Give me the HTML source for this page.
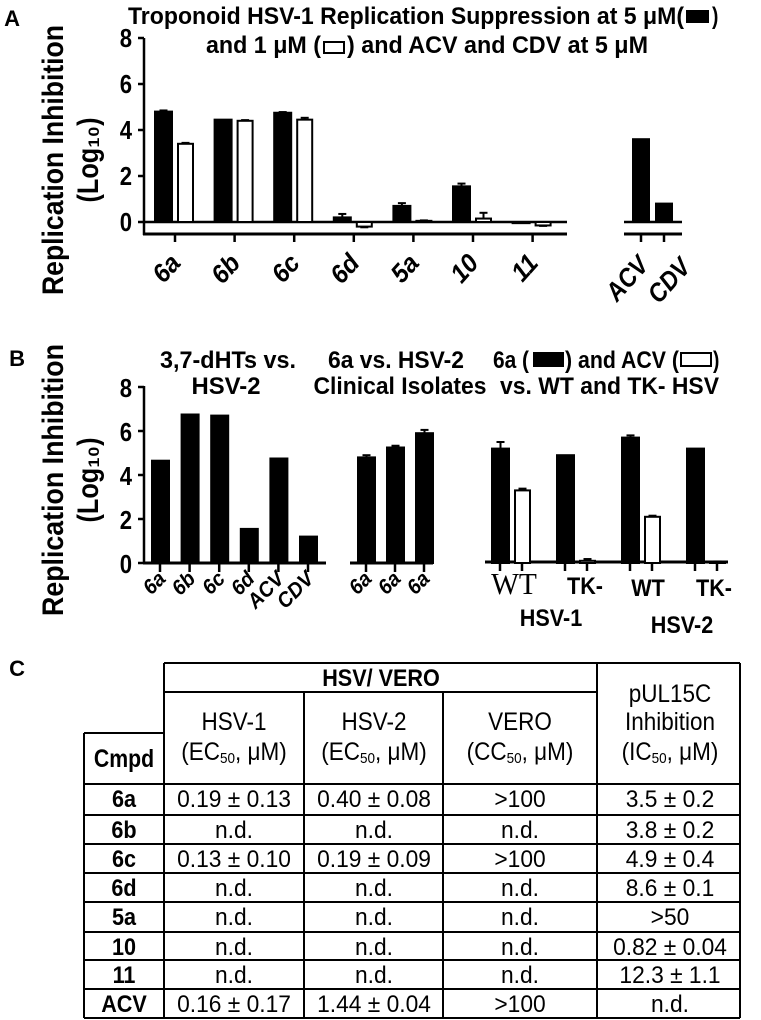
<!DOCTYPE html>
<html><head><meta charset="utf-8"><style>
html,body{margin:0;padding:0;background:#fff;}
svg{display:block;font-family:"Liberation Sans",sans-serif;}
</style></head><body>
<svg id="fig" width="761" height="1020" viewBox="0 0 761 1020" xmlns="http://www.w3.org/2000/svg"></svg>
<script>
// ===== Panel A data =====
const aCats = ["6a","6b","6c","6d","5a","10","11"];
const aBlack = [4.8,4.45,4.75,0.2,0.7,1.55,-0.05];
const aBlackErr = [0.05,0,0.03,0.15,0.12,0.12,0];
const aWhite = [3.4,4.4,4.45,-0.2,0.05,0.15,-0.15];
const aWhiteErr = [0.04,0.03,0.08,0.03,0.02,0.25,0.02];
const aCtrlCats = ["ACV","CDV"];
const aCtrlVals = [3.6,0.8];
const aTicks = [0,2,4,6,8];
// ===== Panel B data =====
const b1Cats = ["6a","6b","6c","6d","ACV","CDV"];
const b1Vals = [4.65,6.75,6.7,1.55,4.75,1.2];
const b2Cats = ["6a","6a","6a"];
const b2Vals = [4.8,5.25,5.9];
const b2Err = [0.1,0.08,0.15];
const b3Black = [5.2,4.9,5.7,5.2];
const b3BlackErr = [0.3,0,0.1,0];
const b3White = [3.3,0.1,2.1,0.05];
const b3WhiteErr = [0.08,0.08,0.05,0.02];
const bTicks = [0,2,4,6,8];
// ===== Table data =====
const tRows = ["6a","6b","6c","6d","5a","10","11","ACV"];
const tHsv1 = ["0.19 ± 0.13","n.d.","0.13 ± 0.10","n.d.","n.d.","n.d.","n.d.","0.16 ± 0.17"];
const tHsv2 = ["0.40 ± 0.08","n.d.","0.19 ± 0.09","n.d.","n.d.","n.d.","n.d.","1.44 ± 0.04"];
const tVero = [">100","n.d.",">100","n.d.","n.d.","n.d.","n.d.",">100"];
const tPul = ["3.5 ± 0.2","3.8 ± 0.2","4.9 ± 0.4","8.6 ± 0.1",">50","0.82 ± 0.04","12.3 ± 1.1","n.d."];

const NS="http://www.w3.org/2000/svg";
const svg=document.getElementById('fig');
function el(tag,attrs,parent){const e=document.createElementNS(NS,tag);for(const k in attrs)e.setAttribute(k,attrs[k]);(parent||svg).appendChild(e);return e;}
function line(x1,y1,x2,y2,w,name){const e=el('line',{x1,y1,x2,y2,stroke:'#000','stroke-width':w||2.5});


return e;}
function txt(s,x,y,o,name){o=o||{};const g=el('g',{transform:`translate(${x},${y})`+(o.rot?` rotate(${o.rot})`:'')+` scale(${o.sx||0.85},${o.sy||1})`});
const t=el('text',{x:0,y:0,'font-size':o.fs||20,'font-weight':o.fw||'bold','text-anchor':o.a||'middle','font-style':o.it?'italic':'normal','font-family':o.ff||'"Liberation Sans",sans-serif'},g);
if(o.len){t.setAttribute('textLength',o.len);t.setAttribute('lengthAdjust','spacingAndGlyphs');}
t.textContent=s;


return t;}
function rect(x,y,w,h,fill,name){const r=el('rect',{x,y,width:w,height:h,fill,stroke:'#000','stroke-width':2});


return r;}
function bar(x,w,v,ys,fill,err,name){const y0=ys(0),y1=ys(v);rect(x,Math.min(y0,y1),w,Math.max(Math.abs(y1-y0),1),fill,name);
if(err>0){const ye=ys(v+(v>=0?err:-err));const c=x+w/2;line(c,y1,c,ye,2,'error-bar');line(c-4,ye,c+4,ye,2,'error-cap');}}

// ===== Panel A =====
txt("A",12,26,{fs:22,sx:1},'panel-a-label');
const yA=v=>222-v*23;
txt("Troponoid HSV-1 Replication Suppression at 5 μM(",128,24,{fs:24,a:'start',len:556,sx:1},'chart-a-title-line1');
rect(687,11,21,11,'#000','legend-black-swatch-a');
txt(")",712,24,{fs:24,a:'start',sx:0.8},'chart-a-title-paren');
txt("and 1 μM (",206,53,{fs:24,a:'start',len:115,sx:1},'chart-a-title-line2a');
rect(324,42,20,11,'#fff','legend-white-swatch-a');
txt(") and ACV and CDV at 5 μM",347,53,{fs:24,a:'start',len:301,sx:1},'chart-a-title-line2b');
line(144,38,144,235,2.5,'y-axis-a');
aTicks.forEach(t=>{line(138,yA(t),144,yA(t),2.5,'y-tick');txt(String(t),132,yA(t)+9,{fs:26,a:'end',sx:0.85},'y-tick-label');});
line(143,222,567,222,2.5,'zero-line-a');line(143,234,567,234,3,'x-axis-a');
line(624,222,682,222,2.5,'zero-line-a-ctrl');line(624,234,682,234,3,'x-axis-a-ctrl');
const aX0=175,aStep=59.6;
aCats.forEach((c,i)=>{const cx=aX0+i*aStep;
bar(cx-20,17,aBlack[i],yA,'#000',aBlackErr[i],'bar-5um-'+c);
bar(cx+3,15,aWhite[i],yA,'#fff',aWhiteErr[i],'bar-1um-'+c);
line(cx,234,cx,242,2.5,'x-tick');
txt(c,cx+7,264,{fs:26,a:'end',it:true,rot:-48,sx:0.95},'x-tick-label');});
const aCtrlX=[641,664];
const aCtrlLab=[[650,266],[692,268]];
aCtrlCats.forEach((c,i)=>{const cx=aCtrlX[i];bar(cx-8,16,aCtrlVals[i],yA,'#000',0,'bar-'+c);
line(cx,234,cx,242,2.5,'x-tick');txt(c,aCtrlLab[i][0],aCtrlLab[i][1],{fs:26,a:'end',it:true,rot:-48,sx:0.9},'x-tick-label');});
txt("Replication Inhibition",0,0,{fs:30,sx:1,len:270},'y-axis-title-a').parentNode.setAttribute('transform','translate(63,160) rotate(-90)');
txt("(Log₁₀)",0,0,{fs:30,sx:1,len:85},'y-axis-subtitle-a').parentNode.setAttribute('transform','translate(98,160) rotate(-90)');

// ===== Panel B =====
txt("B",17,366,{fs:22,sx:1},'panel-b-label');
const yB=v=>563-v*22;
txt("3,7-dHTs vs.",228,368,{fs:24,len:136,sx:1},'chart-b1-title1');
txt("HSV-2",226,394,{fs:24,len:69,sx:1},'chart-b1-title2');
txt("6a vs. HSV-2",396,368,{fs:24,len:136,sx:1},'chart-b2-title1');
txt("Clinical Isolates",400,394,{fs:24,len:173,sx:1},'chart-b2-title2');
txt("6a (",493,368,{fs:24,a:'start',len:36,sx:1},'chart-b3-title1a');
rect(534,353,29,13,'#000','legend-black-swatch-b');
txt(") and ACV (",565,368,{fs:24,a:'start',len:114,sx:1},'chart-b3-title1b');
rect(681,353,30,13,'#fff','legend-white-swatch-b');
txt(")",713,368,{fs:24,a:'start',sx:0.8},'chart-b3-title1c');
txt("vs. WT and TK- HSV",500,394,{fs:24,a:'start',len:219,sx:1},'chart-b3-title2');
line(144,386,144,564,2.5,'y-axis-b');
bTicks.forEach(t=>{line(138,yB(t),144,yB(t),2.5,'y-tick');txt(String(t),132,yB(t)+10,{fs:26,a:'end',sx:0.85},'y-tick-label');});
line(143,563,326,563,3,'x-axis-b1');line(350,563,433,563,3,'x-axis-b2');line(485,562,728,562,3,'x-axis-b3');
const b1X0=160,b1Step=29.6;
b1Cats.forEach((c,i)=>{const cx=b1X0+i*b1Step;bar(cx-8,17,b1Vals[i],yB,'#000',0,'bar-hsv2-'+c);
line(cx,563,cx,572,2.5,'x-tick');txt(c,cx+7,580,{fs:21,a:'end',it:true,rot:-45,sx:0.95},'x-tick-label');});
const b2X0=366,b2Step=29;
b2Cats.forEach((c,i)=>{const cx=b2X0+i*b2Step;bar(cx-8,17,b2Vals[i],yB,'#000',b2Err[i],'bar-isolate-'+(i+1));
line(cx,563,cx,572,2.5,'x-tick');txt(c,cx+7,580,{fs:21,a:'end',it:true,rot:-45,sx:0.95},'x-tick-label');});
const b3X=[500,565,630,695];
b3Black.forEach((v,i)=>{const cx=b3X[i];
bar(cx-8,17,v,yB,'#000',b3BlackErr[i],'bar-6a-'+i);
bar(cx+15,15,b3White[i],yB,'#fff',b3WhiteErr[i],'bar-acv-'+i);
line(cx,562,cx,571,2.5,'x-tick');line(cx+22,562,cx+22,571,2.5,'x-tick');});
txt("WT",514,594,{fs:31,fw:'normal',ff:'"Liberation Serif",serif',sx:0.95},'x-label-wt1');
txt("TK-",585,594,{fs:24,sx:0.9},'x-label-tk1');
txt("WT",648,596,{fs:24,sx:0.9},'x-label-wt2');
txt("TK-",714,596,{fs:24,sx:0.9},'x-label-tk2');
txt("HSV-1",551,626,{fs:24,sx:0.9},'x-group-hsv1');
txt("HSV-2",682,633,{fs:24,sx:0.9},'x-group-hsv2');
txt("Replication Inhibition",0,0,{fs:30,sx:1,len:272},'y-axis-title-b').parentNode.setAttribute('transform','translate(63,480) rotate(-90)');
txt("(Log₁₀)",0,0,{fs:30,sx:1,len:85},'y-axis-subtitle-b').parentNode.setAttribute('transform','translate(98,480) rotate(-90)');

// ===== Panel C table =====
txt("C",17,676,{fs:22,sx:1},'panel-c-label');
const rowY=[784,815,844,873,902,932,960,989,1018];
const tl=(a,b,c,d,n)=>line(a,b,c,d,2,n||'table-border');
tl(164,663,740,663);tl(164,663,164,1018);tl(740,663,740,1018);tl(597,663,597,1018);
tl(164,692,597,692);tl(304,692,304,1018);tl(443,692,443,1018);
tl(84,733,164,733);tl(84,733,84,1018);
rowY.forEach(y=>tl(84,y,740,y));
txt("HSV/ VERO",381,686,{fs:24,sx:0.9},'header-hsv-vero');
const hc=[234,374,520];
[["HSV-1","EC"],["HSV-2","EC"],["VERO","CC"]].forEach((h,i)=>{
txt(h[0],hc[i],730,{fs:25,fw:'normal',sx:0.9},'header-'+h[0].toLowerCase());
const t=txt("",hc[i],760,{fs:25,fw:'normal',sx:0.9},'header-unit');
const a=el('tspan',{},t);a.textContent='('+h[1];
const b=el('tspan',{'font-size':15,dy:3},t);b.textContent='50';
const c=el('tspan',{dy:-3},t);c.textContent=', μM)';});
txt("pUL15C",670,702,{fs:25,fw:'normal',sx:0.9},'header-pul15c');
txt("Inhibition",670,730,{fs:25,fw:'normal',sx:0.9},'header-inhibition');
{const t=txt("",670,760,{fs:25,fw:'normal',sx:0.9},'header-ic50');
const a=el('tspan',{},t);a.textContent='(IC';const b=el('tspan',{'font-size':15,dy:3},t);b.textContent='50';const c=el('tspan',{dy:-3},t);c.textContent=', μM)';}
txt("Cmpd",124,767,{fs:25,sx:0.85},'header-cmpd');
tRows.forEach((r,i)=>{const y=rowY[i]+23;
txt(r,124,y,{fs:24,sx:0.9},'row-'+r);
txt(tHsv1[i],234,y,{fs:24,fw:'normal',sx:0.95},'cell-hsv1-'+r);
txt(tHsv2[i],374,y,{fs:24,fw:'normal',sx:0.95},'cell-hsv2-'+r);
txt(tVero[i],520,y,{fs:24,fw:'normal',sx:0.95},'cell-vero-'+r);
txt(tPul[i],670,y,{fs:24,fw:'normal',sx:0.95},'cell-pul15c-'+r);});
</script>
</body></html>
